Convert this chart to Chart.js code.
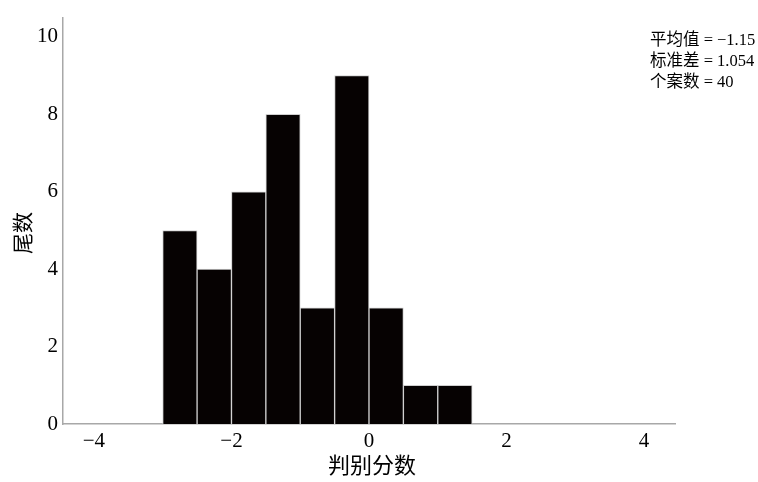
<!DOCTYPE html>
<html>
<head>
<meta charset="utf-8">
<script src="https://cdn.jsdelivr.net/npm/chart.js@4"></script>
<style>
  html, body { margin: 0; padding: 0; background: #fff; }
  #wrap { width: 758px; height: 482px; }
</style>
</head>
<body>
<div id="wrap"><canvas id="chart" width="758" height="482"></canvas></div>
<script>
// 直方图数据: 组中值 (宽 0.5) 与频数
const binCenters = [-2.75, -2.25, -1.75, -1.25, -0.75, -0.25, 0.25, 0.75, 1.25];
const binCounts = [5, 4, 6, 8, 3, 9, 3, 1, 1];
const xTicks = [-4, -2, 0, 2, 4];
const yTicks = [0, 2, 4, 6, 8, 10];
const statLines = ['平均值 = \u22121.15', '标准差 = 1.054', '个案数 = 40'];

const FONT = "'Liberation Serif', 'Noto Sans CJK SC', serif";

// 右上角统计量和坐标轴标题
const textPlugin = {
    id: 'texts',
    afterDraw(chart) {
        const c = chart.ctx;
        c.save();
        c.fillStyle = '#000';
        c.font = '16.5px ' + FONT;
        c.textAlign = 'left';
        c.textBaseline = 'middle';
        statLines.forEach((s, i) => c.fillText(s, 650, 41 + i * 21));

        c.font = '22px ' + FONT;
        c.textAlign = 'center';
        c.fillText('判别分数', 372, 467);

        c.translate(24, 233);
        c.rotate(-Math.PI / 2);
        c.font = '21px ' + FONT;
        c.fillText('尾数', 0, 0);
        c.restore();
    }
};

new Chart(document.getElementById('chart'), {
    type: 'bar',
    data: {
        datasets: [{
            data: binCenters.map((x, i) => ({ x: x, y: binCounts[i] })),
            backgroundColor: '#060202',
            borderColor: '#cfcfcf',
            borderWidth: 1,
            borderSkipped: 'bottom',
            barPercentage: 1,
            categoryPercentage: 1
        }]
    },
    options: {
        responsive: false,
        animation: false,
        layout: { padding: { top: 14, right: 83, left: 0, bottom: 0 } },
        plugins: { legend: { display: false }, tooltip: { enabled: false } },
        scales: {
            x: {
                type: 'linear',
                min: -4.45,
                max: 4.45,
                offset: false,
                afterBuildTicks: s => { s.ticks = xTicks.map(v => ({ value: v })); },
                afterFit: s => { s.height = 58; },
                grid: { display: false, drawTicks: false },
                border: { color: '#a8a8a8', width: 1.5 },
                ticks: {
                    padding: 5,
                    color: '#000',
                    font: { family: FONT, size: 21 },
                    callback: v => v < 0 ? '\u2212' + Math.abs(v) : String(v)
                }
            },
            y: {
                min: 0,
                max: 10.5,
                afterBuildTicks: s => { s.ticks = yTicks.map(v => ({ value: v })); },
                afterFit: s => { s.width = 63; },
                grid: { display: false, drawTicks: false },
                border: { color: '#a8a8a8', width: 1.5 },
                ticks: {
                    padding: 5,
                    color: '#000',
                    font: { family: FONT, size: 21 }
                }
            }
        }
    },
    plugins: [textPlugin]
});
</script>
</body>
</html>
